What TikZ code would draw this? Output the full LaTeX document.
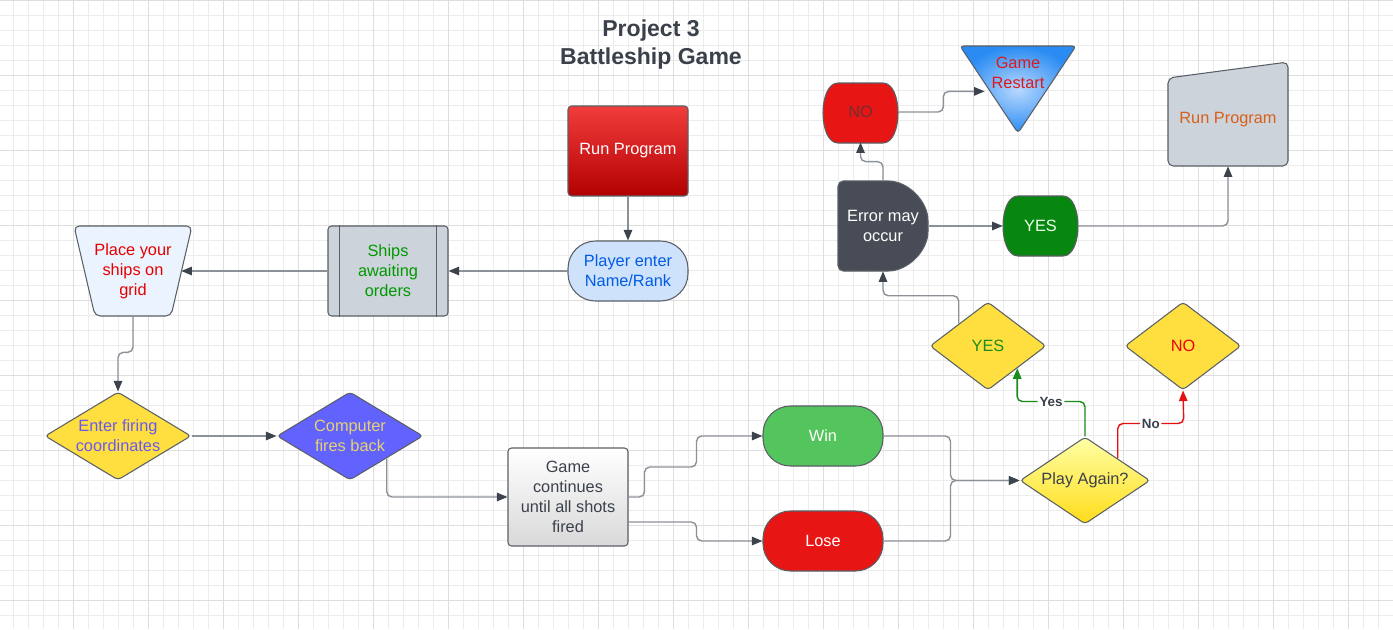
\documentclass[tikz,border=0pt]{standalone}
\usepackage{fontspec}
\setmainfont{Liberation Sans}
\usetikzlibrary{shapes.geometric,arrows.meta}

\definecolor{ink}{HTML}{3B414B}
\definecolor{edge}{HTML}{5A5F66}
\definecolor{wire}{HTML}{8C9198}
\definecolor{tip}{HTML}{3D434C}
\definecolor{gridlo}{HTML}{ECECEC}
\definecolor{gridhi}{HTML}{DEDEDE}
\definecolor{sunny}{HTML}{FFDF40}
\definecolor{paleblue}{HTML}{CFE2FB}
\definecolor{iceblue}{HTML}{EBF4FE}
\definecolor{slate}{HTML}{CDD3DB}
\definecolor{charcoal}{HTML}{474C56}
\definecolor{okgreen}{HTML}{1A8C1A}
\definecolor{darkgreen}{HTML}{07870F}
\definecolor{wingreen}{HTML}{54C45C}
\definecolor{alarm}{HTML}{E81515}
\definecolor{nored}{HTML}{E51010}
\definecolor{maroon}{HTML}{6E3030}
\definecolor{violet}{HTML}{6A5AEA}
\definecolor{indigo}{HTML}{6262FF}
\definecolor{mustard}{HTML}{E6D26E}
\definecolor{skyhi}{HTML}{B8D8FF}
\definecolor{skylo}{HTML}{2A8CF2}
\definecolor{rust}{HTML}{D8601A}

\begin{document}
\begin{tikzpicture}[x=0.02cm,y=-0.02cm,
  every node/.style={font=\fontsize{9.3}{11.3}\selectfont, align=center, inner sep=0pt},
  box/.style={draw=edge, line width=0.6pt},
  stadium/.style={box, rectangle, minimum width=2.4cm, minimum height=1.2cm, rounded corners=0.55cm},
  decide/.style={box, diamond, fill=sunny, rounded corners=2pt},
  link/.style={draw=wire, line width=0.8pt, rounded corners=3pt, -{Triangle[length=6pt,width=4.8pt,color=tip]}},
  yesline/.style={draw=okgreen, line width=0.8pt, rounded corners=3pt, -{Triangle[length=6pt,width=4.8pt]}},
  noline/.style={draw=nored, line width=0.8pt, rounded corners=3pt, -{Triangle[length=6pt,width=4.8pt]}},
  lab/.style={fill=white, text=ink, inner sep=1pt, font=\bfseries\fontsize{7.6}{9}\selectfont}
]

% Grid
\useasboundingbox (0,0) rectangle (1393,629);
\fill[white] (0,0) rectangle (1393,629);
\foreach \i in {0,...,92} \draw[gridlo, line width=0.5pt] ({13.33+15*\i},0) -- ++(0,629);
\foreach \j in {0,...,41} \draw[gridlo, line width=0.5pt] (0,15*\j) -- ++(1393,0);
\foreach \i in {0,...,18} \draw[gridhi, line width=0.5pt] ({73.33+75*\i},0) -- ++(0,629);
\foreach \j in {0,...,8} \draw[gridhi, line width=0.5pt] (0,75*\j) -- ++(1393,0);

% Title
\node[text=ink, font=\bfseries\fontsize{13.1}{15.9}\selectfont] (title) at (651,45) {Project 3\\Battleship Game};

% Setup steps
\node[box, top color=red!75!white!95!black, bottom color=red!70!black, minimum width=2.4cm, minimum height=1.8cm, rounded corners=2pt, text=white] (run) at (628,151) {Run Program};
\node[stadium, fill=paleblue, text=blue!60!cyan!90!black] (player) at (628,271) {Player enter\\Name/Rank};
\node[box, fill=slate, minimum width=2.4cm, minimum height=1.8cm, rounded corners=2pt, text=green!60!black] (ships) at (388,271) {Ships\\awaiting\\orders};
\draw[edge, line width=0.6pt] ([xshift=0.24cm]ships.north west) -- ([xshift=0.24cm]ships.south west);
\draw[edge, line width=0.6pt] ([xshift=-0.24cm]ships.north east) -- ([xshift=-0.24cm]ships.south east);
\draw[box, fill=iceblue, rounded corners=3pt] (74,226) -- (192,226) -- (171,316) -- (95,316) -- cycle;
\node[minimum width=1.92cm, minimum height=1.8cm, text=red!90!black] (place) at (133,271) {Place your\\ships on\\grid};

% Firing round
\node[decide, aspect=1.66, minimum width=2.92cm, minimum height=1.76cm, text=violet] (enter) at (118,436) {Enter firing\\coordinates};
\node[decide, aspect=1.66, fill=indigo, minimum width=2.92cm, minimum height=1.76cm, text=mustard] (comp) at (350,436) {Computer\\fires back};
\node[box, top color=white, bottom color=black!15, minimum width=2.4cm, minimum height=1.96cm, rounded corners=2pt, text=ink] (game) at (568,497) {Game\\continues\\until all shots\\fired};
\node[stadium, fill=wingreen, text=white] (win) at (823,436) {Win};
\node[stadium, fill=alarm, text=white] (lose) at (823,541) {Lose};
\node[decide, aspect=1.5, top color=yellow!35!white, bottom color=yellow!70!orange!90!white, minimum width=2.6cm, minimum height=1.74cm, text=ink] (again) at (1085,480.5) {Play Again?};
\node[decide, aspect=1.32, minimum width=2.32cm, minimum height=1.76cm, text=okgreen] (yesd) at (988,346) {YES};
\node[decide, aspect=1.32, minimum width=2.32cm, minimum height=1.76cm, text=red!95!black] (nod) at (1183,346) {NO};

% Restart branch
\draw[box, fill=charcoal, rounded corners=3pt] (838,181) -- (883,181) .. controls (907.85,181) and (928,201.15) .. (928,226) .. controls (928,250.85) and (907.85,271) .. (883,271) -- (838,271) -- cycle;
\node[minimum width=1.8cm, minimum height=1.8cm, text=white] (err) at (883,226) {Error may\\occur};
\draw[box, fill=darkgreen] (1018,196) -- (1063,196) .. controls (1083,196) and (1083,256) .. (1063,256) -- (1018,256) .. controls (998,256) and (998,196) .. cycle;
\node[minimum width=1.5cm, minimum height=1.2cm, text=green!8] (yes2) at (1040.5,226) {YES};
\draw[box, fill=alarm] (838,83) -- (883,83) .. controls (903,83) and (903,143) .. (883,143) -- (838,143) .. controls (818,143) and (818,83) .. cycle;
\node[minimum width=1.5cm, minimum height=1.2cm, text=maroon] (no) at (860.5,112) {NO};
\shade[inner color=skyhi, outer color=skylo, draw=edge, line width=0.6pt, rounded corners=2pt] (960,46) -- (1076,46) -- (1018,133) -- cycle;
\node[minimum width=1.32cm, minimum height=0.72cm, text=red!85!black!90!white] (restart) at (1018,73) {Game\\Restart};
\draw[box, fill=slate, rounded corners=3pt] (1168,78) -- (1288,62) -- (1288,166) -- (1168,166) -- cycle;
\node[minimum width=2.4cm, minimum height=1.84cm, text=rust] (run2) at (1228,120) {Run Program};

% Connectors
\draw[link] (run.south) -- (player.north);
\draw[link] (player.west) -- (ships.east);
\draw[link] (ships.west) -- (place.east);
\draw[link] (place.south) -- ++(0,36) -| (enter.north);
\draw[link] (enter.east) -- (comp.west);
\draw[link] (comp.south east) |- (game.west);
\draw[link] (game.east) -- ++(16,0) -- ++(0,-30) -- ++(52,0) |- (win.west);
\draw[link] ([yshift=-0.5cm]game.east) -- ++(68,0) |- (lose.west);
\draw[link] (win.east) -- ++(67,0) |- (again.west);
\draw[link] (lose.east) -- ++(67,0) |- (again.west);
\draw[yesline] (again.north) -- ++(0,-35) -- node[lab]{Yes} ++(-68,0) -- (yesd.south east);
\draw[noline] (again.north east) -- ++(0,-35) -- node[lab]{No} ++(66,0) -- (nod.south);
\draw[link] (yesd.north west) -- ++(0,-28) -| (err.south);
\draw[link] (err.east) -- (yes2.west);
\draw[link] (yes2.east) -| (run2.south);
\draw[link] (err.north) -- ++(0,-19) -| (no.south);
\draw[link] (no.east) -- ++(45,0) |- (restart.south west);

\end{tikzpicture}
\end{document}
